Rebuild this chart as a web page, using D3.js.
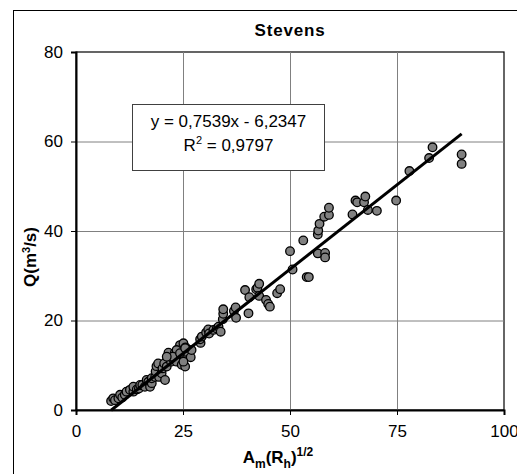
<!DOCTYPE html>
<html>
<head>
<meta charset="utf-8">
<script src="https://cdn.jsdelivr.net/npm/d3@7"></script>
<style>
  html, body { margin: 0; padding: 0; background: #fff; }
  svg { display: block; font-family: "Liberation Sans", Arial, sans-serif; }
</style>
</head>
<body>
<svg id="chart" width="517" height="474"></svg>
<script>
// Measured discharge Q (m3/s) against the hydraulic term Am*(Rh)^1/2
const xValues = [
  8.2, 8.7, 9.1, 9.9, 10.3, 10.8, 11.4, 11.8, 12.6, 13.4, 13.4, 14.2, 14.7, 15.0, 15.5,
  16.1, 16.5, 16.9, 17.3, 17.7, 17.7, 18.5, 18.6, 18.8, 19.2, 19.4, 20.0, 20.2, 20.8, 20.6,
  21.2, 21.4, 21.6, 22.2, 22.5, 23.1, 23.5, 23.9, 24.3, 24.7, 25.1, 25.3, 23.5, 22.6, 21.2,
  25.6, 25.5, 26.8, 25.5, 25.1, 24.3, 27.0, 25.5,
  29.1, 29.0, 29.4, 30.4, 30.9, 31.1, 32.1, 32.9, 33.3, 33.8, 34.3, 34.4, 34.4, 36.9, 37.3,
  37.4, 39.5, 40.3, 40.5, 42.1, 42.4, 42.8, 42.8, 44.4, 44.9, 45.3, 47.0, 47.7,
  50.0, 50.6, 53.1, 53.9, 54.4, 56.5, 58.2, 58.2, 56.5, 56.6, 56.9, 58.0, 59.1, 59.1,
  64.6, 65.3, 65.7, 67.3, 67.6, 68.2, 70.3, 74.8, 77.9, 82.5, 83.3, 90.1, 90.1
];
const qValues = [
  2.0, 2.6, 2.2, 2.6, 3.4, 2.8, 3.4, 4.1, 4.5, 4.1, 5.2, 4.6, 4.8, 5.6, 5.6,
  5.2, 6.7, 6.3, 5.2, 6.0, 7.1, 7.4, 8.6, 9.8, 10.4, 7.4, 8.2, 9.3, 6.7, 10.4,
  9.7, 11.9, 12.8, 10.8, 11.6, 12.8, 10.8, 12.5, 14.5, 10.1, 14.9, 11.9, 13.4, 11.9, 11.9,
  14.0, 13.0, 11.8, 9.7, 10.8, 12.7, 13.4, 13.8,
  15.0, 15.8, 16.4, 17.3, 18.0, 17.1, 17.9, 18.2, 18.6, 17.5, 20.3, 21.5, 22.5, 22.1, 22.9,
  20.6, 26.8, 21.6, 25.2, 27.0, 27.3, 28.2, 25.5, 24.6, 23.7, 23.1, 26.1, 27.0,
  35.5, 31.4, 37.9, 29.7, 29.7, 35.0, 35.1, 34.1, 39.2, 40.1, 41.6, 43.2, 43.6, 45.2,
  43.7, 46.8, 46.4, 46.4, 47.7, 44.7, 44.5, 46.8, 53.4, 56.3, 58.7, 57.1, 55.0
];

// Axis ticks and fitted linear trend (least squares, as printed on the chart)
const xTicks = [0, 25, 50, 75, 100];
const yTicks = [0, 20, 40, 60, 80];
const slope = 0.7539;
const intercept = -6.2347;
const rSquared = 0.9797;
const titleText = "Stevens";
const equationText = "y = 0,7539x - 6,2347";

const points = xValues.map((x, i) => ({ x, q: qValues[i] }));

const svg = d3.select("#chart");
const plot = { left: 76, top: 52, right: 504, bottom: 410 };

const x = d3.scaleLinear().domain([0, 100]).range([plot.left, plot.right]);
const y = d3.scaleLinear().domain([0, 80]).range([plot.bottom, plot.top]);

// Outer chart frame
svg.append("rect")
  .attr("x", 13.5).attr("y", 10.5)
  .attr("width", 600).attr("height", 600)
  .attr("fill", "#fff").attr("stroke", "#000").attr("stroke-width", 1);

// Plot area border
svg.append("rect")
  .attr("x", plot.left).attr("y", plot.top)
  .attr("width", plot.right - plot.left).attr("height", plot.bottom - plot.top)
  .attr("fill", "#fff").attr("stroke", "#000").attr("stroke-width", 1.2);

// Grid lines
const grid = svg.append("g").attr("stroke", "#808080").attr("stroke-width", 1);
grid.selectAll("line.v").data(xTicks.filter(d => d > 0 && d < 100)).join("line")
  .attr("x1", d => x(d) + 0.5).attr("x2", d => x(d) + 0.5)
  .attr("y1", plot.top).attr("y2", plot.bottom);
grid.selectAll("line.h").data(yTicks.filter(d => d > 0 && d < 80)).join("line")
  .attr("x1", plot.left).attr("x2", plot.right)
  .attr("y1", d => y(d) + 0.5).attr("y2", d => y(d) + 0.5);

// Axes
const xAxis = d3.axisBottom(x).tickValues(xTicks).tickSize(5).tickPadding(10).tickFormat(d3.format("d"));
const yAxis = d3.axisLeft(y).tickValues(yTicks).tickSize(5).tickPadding(8).tickFormat(d3.format("d"));

const gx = svg.append("g").attr("transform", `translate(0,${plot.bottom})`).call(xAxis);
const gy = svg.append("g").attr("transform", `translate(${plot.left},0)`).call(yAxis);
[gx, gy].forEach(g => {
  g.select(".domain").attr("stroke", "#000").attr("stroke-width", 2);
  g.selectAll(".tick line").attr("stroke", "#000").attr("stroke-width", 1);
  g.selectAll(".tick text")
    .attr("fill", "#000")
    .style("font-family", "'Liberation Sans', Arial, sans-serif")
    .style("font-size", "17px");
});

// Data points
svg.append("g").selectAll("circle").data(points).join("circle")
  .attr("cx", d => x(d.x)).attr("cy", d => y(d.q))
  .attr("r", 4.3)
  .attr("fill", "#808080").attr("stroke", "#000").attr("stroke-width", 1.3);

// Trend line over the data range
const xr = d3.extent(points, d => d.x);
const line = d3.line().x(d => x(d[0])).y(d => y(d[1]));
svg.append("path")
  .datum(xr.map(v => [v, slope * v + intercept]))
  .attr("d", line)
  .attr("stroke", "#000").attr("stroke-width", 3).attr("fill", "none");

// Equation label
const box = svg.append("g");
box.append("rect")
  .attr("x", 132.5).attr("y", 104.5).attr("width", 192).attr("height", 66)
  .attr("fill", "#fff").attr("stroke", "#404040").attr("stroke-width", 1);
box.append("text")
  .attr("x", 228.5).attr("y", 127).attr("text-anchor", "middle")
  .style("font-size", "17px").text(equationText);
const r2 = box.append("text")
  .attr("x", 228.5).attr("y", 151).attr("text-anchor", "middle")
  .style("font-size", "17px");
r2.append("tspan").text("R");
r2.append("tspan").attr("dy", -7).style("font-size", "11px").text("2");
r2.append("tspan").attr("dy", 7).text(" = " + String(rSquared).replace(".", ","));

// Title
svg.append("text")
  .attr("x", (plot.left + plot.right) / 2).attr("y", 36)
  .attr("text-anchor", "middle")
  .style("font-size", "17px").style("font-weight", "bold")
  .style("letter-spacing", "0.8px")
  .text(titleText);

// X axis title: Am(Rh)^1/2
const xt = svg.append("text")
  .attr("x", 278).attr("y", 463).attr("text-anchor", "middle")
  .style("font-size", "17px").style("font-weight", "bold");
xt.append("tspan").text("A");
xt.append("tspan").attr("dy", 5).style("font-size", "12px").text("m");
xt.append("tspan").attr("dy", -5).text("(R");
xt.append("tspan").attr("dy", 5).style("font-size", "12px").text("h");
xt.append("tspan").attr("dy", -5).text(")");
xt.append("tspan").attr("dy", -7).style("font-size", "12px").text("1/2");

// Y axis title: Q(m3/s)
const yt = svg.append("text")
  .attr("transform", "translate(36,257) rotate(-90)")
  .attr("text-anchor", "middle")
  .style("font-size", "17px").style("font-weight", "bold");
yt.append("tspan").text("Q(m");
yt.append("tspan").attr("dy", -6).style("font-size", "11px").text("3");
yt.append("tspan").attr("dy", 6).text("/s)");
</script>
</body>
</html>
